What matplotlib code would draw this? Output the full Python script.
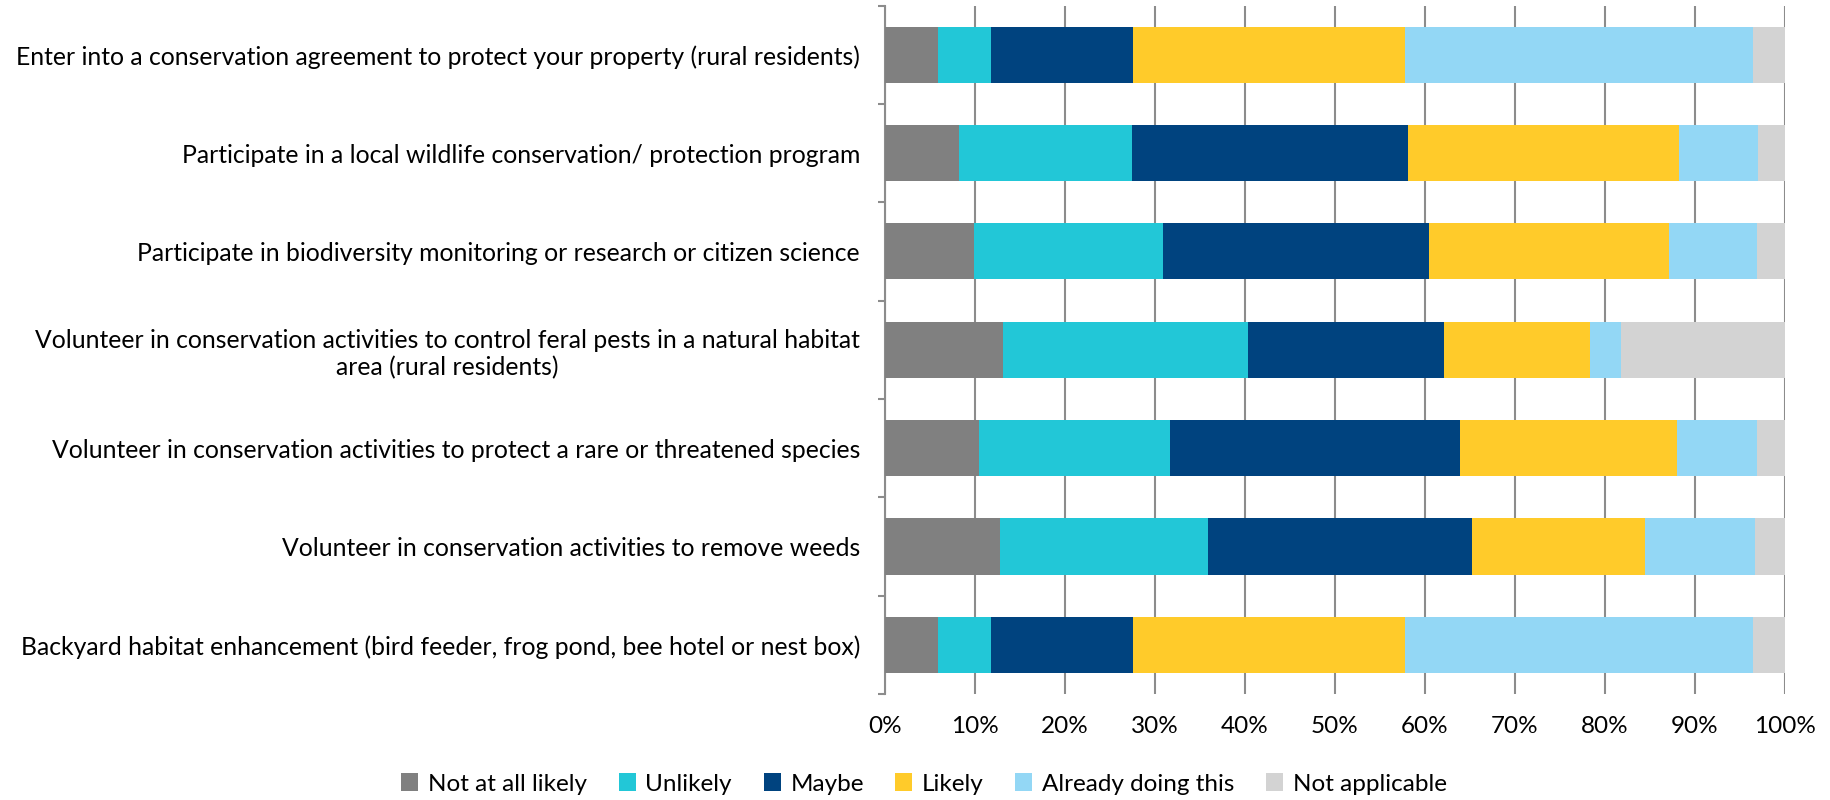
import numpy as np
import matplotlib
matplotlib.use('Agg')
import matplotlib.pyplot as plt

activities = [
    'Enter into a conservation agreement to protect your property (rural residents)',
    'Participate in a local wildlife conservation/ protection program',
    'Participate in biodiversity monitoring or research or citizen science',
    'Volunteer in conservation activities to control feral pests in a natural habitat\narea (rural residents)',
    'Volunteer in conservation activities to protect a rare or threatened species',
    'Volunteer in conservation activities to remove weeds',
    'Backyard habitat enhancement (bird feeder, frog pond, bee hotel or nest box)',
]
responses = ['Not at all likely', 'Unlikely', 'Maybe', 'Likely', 'Already doing this', 'Not applicable']

# percent of respondents, one list per response, same order as activities
not_at_all_likely = [5.9, 8.2, 9.9, 13.1, 10.5, 12.8, 5.9]
unlikely = [5.9, 19.2, 21.0, 27.2, 21.2, 23.1, 5.9]
maybe = [15.8, 30.7, 29.5, 21.8, 32.2, 29.3, 15.8]
likely = [30.2, 30.1, 26.7, 16.2, 24.1, 19.2, 30.2]
already_doing = [38.7, 8.8, 9.8, 3.5, 8.9, 12.3, 38.7]
not_applicable = [3.5, 3.1, 3.1, 18.2, 3.1, 3.3, 3.5]

colors = ['#808080', '#22C7D7', '#00437F', '#FFCB2A', '#93D7F5', '#D3D3D3']

plt.rcParams['font.family'] = ['Lato', 'DejaVu Sans']

fig = plt.figure(figsize=(18.3, 8), dpi=100)
ax = fig.add_axes([0.4836, 0.1325, 0.4918, 0.8605])

series = [not_at_all_likely, unlikely, maybe, likely, already_doing, not_applicable]
y = np.arange(len(activities))
left = np.zeros(len(activities))
for name, vals, col in zip(responses, series, colors):
    vals = np.array(vals)
    ax.barh(y, vals, left=left, height=0.57, color=col, label=name, zorder=3)
    left += vals

ax.set_xlim(0, 100)
ax.set_ylim(len(activities) - 0.5, -0.5)
ax.set_xticks(np.arange(0, 101, 10))
ax.set_xticklabels([f'{v}%' for v in range(0, 101, 10)], fontsize=17.5)
ax.set_yticks(y)
ax.set_yticklabels(activities, fontsize=17.8)
for lab in ax.get_yticklabels():
    lab.set_multialignment('center')
ax.set_yticks(np.arange(-0.5, len(activities), 1), minor=True)

ax.grid(axis='x', color='#8C8C8C', linewidth=1.5, zorder=0)
for s in ['top', 'right', 'bottom']:
    ax.spines[s].set_visible(False)
ax.spines['left'].set_color('#8C8C8C')
ax.spines['left'].set_linewidth(1.5)
ax.tick_params(axis='x', length=0, pad=16)
ax.tick_params(axis='y', which='major', length=0, pad=18)
ax.tick_params(axis='y', which='minor', length=5, width=1.5, color='#8C8C8C')

fig.legend(loc='center', bbox_to_anchor=(0.505, 0.02), ncol=6, frameon=False,
           fontsize=17.5, handlelength=0.7, handleheight=0.7, columnspacing=1.3, handletextpad=0.4)

plt.savefig('out.png', dpi=100)
